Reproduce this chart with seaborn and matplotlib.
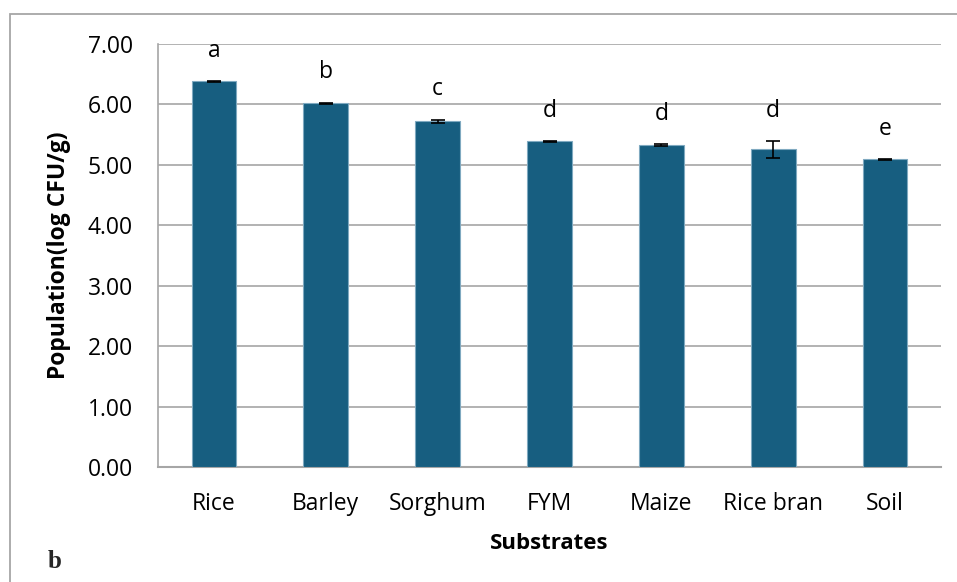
import matplotlib
matplotlib.use("Agg")
import matplotlib.pyplot as plt
import matplotlib.patches as mpatches
import seaborn as sns
import pandas as pd

substrates = ["Rice", "Barley", "Sorghum", "FYM", "Maize", "Rice bran", "Soil"]
population = [6.38, 6.02, 5.72, 5.39, 5.33, 5.26, 5.09]
std_err = [0.01, 0.01, 0.03, 0.01, 0.01, 0.14, 0.01]
letters = ["a", "b", "c", "d", "d", "d", "e"]
y_ticks = [0, 1, 2, 3, 4, 5, 6, 7]

df = pd.DataFrame({"Substrate": substrates, "Population": population})

sns.set_theme(style="white")
plt.rcParams["font.family"] = ["Open Sans", "DejaVu Sans"]

fig = plt.figure(figsize=(9.57, 5.82), dpi=100)
ax = fig.add_axes([158 / 957, 1 - 467 / 582, (941 - 158) / 957, (467 - 44) / 582])

bar_color = "#175E80"
sns.barplot(data=df, x="Substrate", y="Population", color=bar_color,
            saturation=1, width=0.4, edgecolor="#7FA9C0", linewidth=0.8,
            errorbar=None, ax=ax, zorder=3)

ax.errorbar(range(len(substrates)), population, yerr=std_err, fmt="none",
            ecolor="black", elinewidth=1.2, capsize=5, capthick=1.2, zorder=4)

for i, (v, e, t) in enumerate(zip(population, std_err, letters)):
    ax.text(i, v + e + 0.3, t, ha="center", va="bottom", fontsize=16.5, color="black")

ax.set_ylim(0, 7)
ax.set_xlim(-0.5, len(substrates) - 0.5)
ax.set_yticks(y_ticks)
ax.set_yticklabels([f"{t:.2f}" for t in y_ticks])
ax.yaxis.grid(True, color="#A6A6A6", linewidth=1.2, zorder=0)
ax.set_axisbelow(True)
ax.tick_params(axis="both", length=0, labelsize=16.5, colors="black")
ax.tick_params(axis="y", pad=18)
ax.tick_params(axis="x", pad=18)

for side in ["top", "right"]:
    ax.spines[side].set_visible(False)
ax.spines["left"].set_color("#A6A6A6")
ax.spines["bottom"].set_color("#A6A6A6")
ax.spines["left"].set_linewidth(1.2)
ax.spines["bottom"].set_linewidth(1.5)

ax.set_xlabel("Substrates", fontsize=16, fontweight="bold", labelpad=12, color="black")
ax.set_ylabel("Population(log CFU/g)", fontsize=16.5, fontweight="bold", labelpad=12, color="black")

# panel frame
frame = mpatches.Rectangle((10 / 957, -0.1), 1.2, 1 - 14 / 582 + 0.1,
                           transform=fig.transFigure, fill=False,
                           edgecolor="#A6A6A6", linewidth=1.3, clip_on=False)
fig.patches.append(frame)

fig.text(48 / 957, 1 - 562 / 582, "b", fontsize=18, fontweight="bold",
         family="Liberation Serif", va="center", ha="left")

fig.savefig("out.png", dpi=100)
